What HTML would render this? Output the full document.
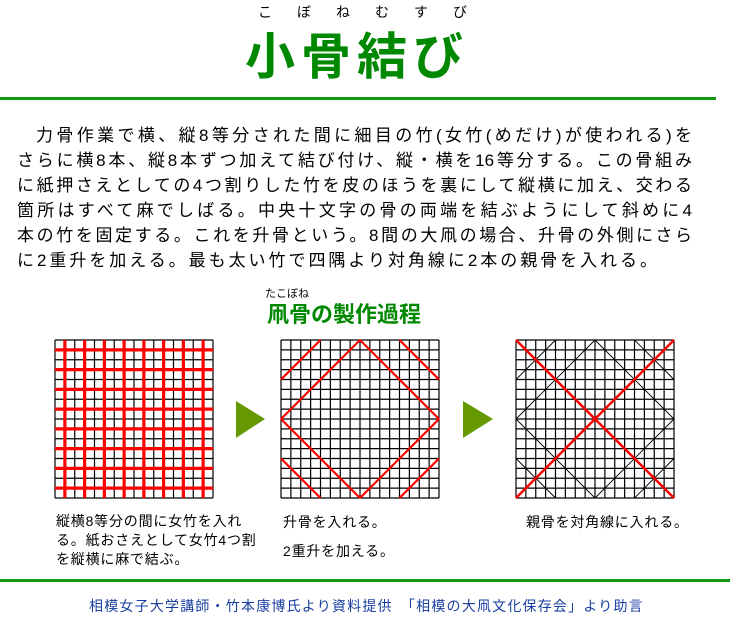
<!DOCTYPE html>
<html><head><meta charset="utf-8"><style>
body{margin:0;width:730px;height:619px;background:#fff;position:relative;overflow:hidden;font-family:"Liberation Sans","Noto Sans CJK JP",sans-serif;}
.a{position:absolute;white-space:nowrap;}
.t{font-size:17px;color:#000;text-align:justify;text-align-last:justify;white-space:normal;}
.c{font-size:14px;color:#000;letter-spacing:0.8px;}
</style></head><body>
<div class="a" style="left:258px;top:2px;font-size:14px;letter-spacing:25px;">こぼねむすび</div>
<div class="a" style="left:245px;top:17px;font-size:50px;color:#008800;font-weight:bold;letter-spacing:6px;">小骨結び</div>
<div class="a" style="left:0;top:97px;width:716px;height:3px;background:#119911;"></div>
<div class="a t" style="left:36px;top:121px;width:656px;">力骨作業で横、縦8等分された間に細目の竹(女竹(めだけ)が使われる)を</div>
<div class="a t" style="left:17px;top:146px;width:675px;">さらに横8本、縦8本ずつ加えて結び付け、縦・横を16等分する。この骨組み</div>
<div class="a t" style="left:17px;top:171px;width:675px;">に紙押さえとしての4つ割りした竹を皮のほうを裏にして縦横に加え、交わる</div>
<div class="a t" style="left:17px;top:196px;width:675px;">箇所はすべて麻でしばる。中央十文字の骨の両端を結ぶようにして斜めに4</div>
<div class="a t" style="left:17px;top:221px;width:675px;">本の竹を固定する。これを升骨という。8間の大凧の場合、升骨の外側にさら</div>
<div class="a t" style="left:17px;top:246px;width:640px;">に2重升を加える。最も太い竹で四隅より対角線に2本の親骨を入れる。</div>
<div class="a" style="left:265px;top:285px;font-size:11px;">たこぼね</div>
<div class="a" style="left:267px;top:297px;font-size:22px;color:#008800;font-weight:bold;">凧骨の製作過程</div>
<svg class="a" style="left:0;top:0" width="730" height="619">
<g id="grids" stroke="#000" stroke-width="1.2" fill="none"></g>
<polygon points="236,401 265,419 236,438" fill="#669900"/>
<polygon points="463,401 493,419 463,438" fill="#669900"/>
<script>
var ns="http://www.w3.org/2000/svg",g=document.getElementById("grids");
function L(x1,y1,x2,y2,c,w){var l=document.createElementNS(ns,"line");l.setAttribute("x1",x1);l.setAttribute("y1",y1);l.setAttribute("x2",x2);l.setAttribute("y2",y2);if(c)l.setAttribute("stroke",c);if(w)l.setAttribute("stroke-width",w);g.appendChild(l);}
var s=158,y0=340,d=s/16;
[55,281,516].forEach(function(x0){for(var i=0;i<=16;i++){L(x0+i*d,y0,x0+i*d,y0+s);L(x0,y0+i*d,x0+s,y0+i*d);}});
var x0=55;for(var i=1;i<16;i+=2){L(x0+i*d,y0,x0+i*d,y0+s,"#f00",3.2);L(x0,y0+i*d,x0+s,y0+i*d,"#f00",3.2);}
function dia(x0,c,w){var h=s/2,q=s/4;
L(x0+h,y0,x0+s,y0+h,c,w);L(x0+s,y0+h,x0+h,y0+s,c,w);L(x0+h,y0+s,x0,y0+h,c,w);L(x0,y0+h,x0+h,y0,c,w);
L(x0,y0+q,x0+q,y0,c,w);L(x0+s-q,y0,x0+s,y0+q,c,w);L(x0,y0+s-q,x0+q,y0+s,c,w);L(x0+s-q,y0+s,x0+s,y0+s-q,c,w);}
dia(281,"#f00",2.2);dia(516,"#000",0.9);
L(516,y0,516+s,y0+s,"#f00",2.5);L(516+s,y0,516,y0+s,"#f00",2.5);
</script>
</svg>
<div class="a c" style="left:56px;top:512px;line-height:19px;">縦横8等分の間に女竹を入れ<br>る。紙おさえとして女竹4つ割<br>を縦横に麻で結ぶ。</div>
<div class="a c" style="left:283px;top:512px;">升骨を入れる。</div>
<div class="a c" style="left:283px;top:541px;">2重升を加える。</div>
<div class="a c" style="left:526px;top:512px;">親骨を対角線に入れる。</div>
<div class="a" style="left:0;top:579px;width:730px;height:3px;background:#119911;"></div>
<div class="a" style="left:89px;top:596px;font-size:14px;color:#1a3fa0;letter-spacing:1.2px;">相模女子大学講師・竹本康博氏より資料提供　「相模の大凧文化保存会」より助言</div>
</body></html>
